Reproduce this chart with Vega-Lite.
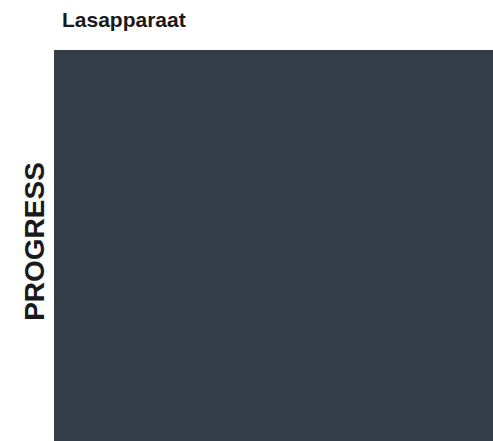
{
  "$schema": "https://vega.github.io/schema/vega-lite/v6.json",
  "autosize": "none",
  "width": 439,
  "height": 391,
  "padding": {"left": 54, "top": 50, "right": 0, "bottom": 0},
  "background": "white",
  "title": {
    "text": "Lasapparaat",
    "anchor": "start",
    "frame": "group",
    "dx": 8,
    "offset": 19,
    "font": "Liberation Sans",
    "fontSize": 21,
    "fontWeight": "bold",
    "color": "#1a1a1a"
  },
  "data": {"values": [{"task": "Lasapparaat", "stage": "PROGRESS", "value": 1}]},
  "mark": {"type": "rect", "color": "#333d48"},
  "encoding": {
    "x": {"field": "task", "type": "nominal", "axis": null, "scale": {"paddingInner": 0, "paddingOuter": 0}},
    "y": {
      "field": "stage",
      "type": "nominal",
      "scale": {"paddingInner": 0, "paddingOuter": 0},
      "axis": {
        "title": "PROGRESS",
        "labels": false,
        "ticks": false,
        "domain": false,
        "titleFont": "Liberation Sans",
        "titleFontSize": 28,
        "titleFontWeight": "bold",
        "titleColor": "#1a1a1a",
        "titlePadding": 5,
        "titleY": 191
      }
    }
  },
  "config": {"view": {"stroke": null}}
}
